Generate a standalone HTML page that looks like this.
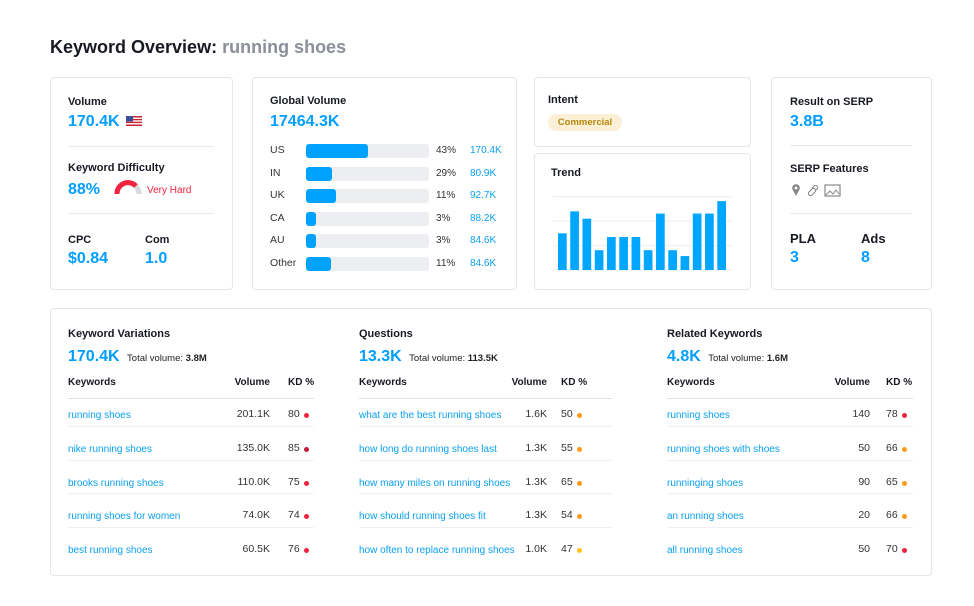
<!DOCTYPE html>
<html><head><meta charset="utf-8">
<style>
*{box-sizing:border-box;margin:0;padding:0}
body{width:974px;height:606px;background:#fff;font-family:"Liberation Sans",sans-serif;color:#171a22;position:relative;overflow:hidden}
.a{position:absolute;white-space:nowrap}
.card{position:absolute;border:1px solid #e4e6ea;border-radius:4px;background:#fff}
.lbl{font-size:11px;font-weight:bold;color:#171a22}
.big{font-size:16px;font-weight:bold;color:#009eff}
.div{position:absolute;height:1px;background:#e9eaee}
.lnk{font-size:10px;color:#0aa0f0}
.num{font-size:10.5px;color:#333}
.dot{position:absolute;width:5px;height:5px;border-radius:50%}
</style></head><body>
<div class="a" style="left:50px;top:37px;font-size:18px;font-weight:bold">Keyword Overview: <span style="color:#8a8f99">running shoes</span></div>

<div class="card" style="left:50px;top:77px;width:183px;height:213px"></div>
<div class="a lbl" style="left:68px;top:96px">Volume</div>
<div class="a big" style="left:68px;top:113px">170.4K</div>
<svg class="a" style="left:126px;top:116px" width="16" height="10"><rect width="16" height="10" fill="#c8262f"/><rect y="1.5" width="16" height="1.4" fill="#fff"/><rect y="4.3" width="16" height="1.4" fill="#fff"/><rect y="7.1" width="16" height="1.4" fill="#fff"/><rect width="7" height="5.5" fill="#3c4d9a"/></svg>
<div class="div" style="left:68px;top:146px;width:146px"></div>
<div class="a lbl" style="left:68px;top:162px">Keyword Difficulty</div>
<div class="a big" style="left:68px;top:181px">88%</div>
<svg class="a" style="left:114px;top:180px" width="28" height="16"><path d="M3,14 A11,11 0 0 1 25,14" fill="none" stroke="#d6d8dc" stroke-width="5"/><path d="M3,14 A11,11 0 0 1 22,6" fill="none" stroke="#f0233f" stroke-width="5"/></svg>
<div class="a" style="left:147px;top:185px;font-size:10px;color:#f0233f">Very Hard</div>
<div class="div" style="left:68px;top:213px;width:146px"></div>
<div class="a lbl" style="left:68px;top:234px">CPC</div>
<div class="a big" style="left:68px;top:250px">$0.84</div>
<div class="a lbl" style="left:145px;top:234px">Com</div>
<div class="a big" style="left:145px;top:250px">1.0</div>

<div class="card" style="left:252px;top:77px;width:265px;height:213px"></div>
<div class="a lbl" style="left:270px;top:95px">Global Volume</div>
<div class="a big" style="left:270px;top:113px">17464.3K</div>
<div id="gv"></div>

<div class="card" style="left:534px;top:77px;width:217px;height:70px"></div>
<div class="a lbl" style="left:548px;top:94px">Intent</div>
<div class="a" style="left:548px;top:114px;width:74px;height:17px;border-radius:9px;background:#fbf0d5;color:#b8860b;font-size:9.5px;font-weight:bold;text-align:center;line-height:17px">Commercial</div>

<div class="card" style="left:534px;top:153px;width:217px;height:137px"></div>
<div class="a lbl" style="left:551px;top:167px">Trend</div>
<svg class="a" id="trend" style="left:0;top:0" width="974" height="606"></svg>

<div class="card" style="left:771px;top:77px;width:161px;height:213px"></div>
<div class="a lbl" style="left:790px;top:96px">Result on SERP</div>
<div class="a big" style="left:790px;top:113px">3.8B</div>
<div class="div" style="left:790px;top:145px;width:122px"></div>
<div class="a lbl" style="left:790px;top:163px">SERP Features</div>
<svg class="a" style="left:790px;top:183px" width="55" height="14"><path d="M6,13 L2.5,6.5 A3.8,3.8 0 1 1 9.5,6.5 Z" fill="#888"/><circle cx="6" cy="5" r="1.4" fill="#fff"/><path d="M19,9 l3,-3 a2,2 0 0 1 3,3 l-3,3 a2,2 0 0 1 -3,-3 M22,5 l2,-2 a2,2 0 0 1 3,3 l-2,2" fill="none" stroke="#888" stroke-width="1.1"/><rect x="35" y="2" width="15" height="11" fill="none" stroke="#888" stroke-width="1.2"/><path d="M36,12 l4,-4 3,3 3,-4 3,4" fill="none" stroke="#888"/></svg>
<div class="div" style="left:790px;top:213px;width:122px"></div>
<div class="a" style="left:790px;top:231px;font-size:13px;font-weight:bold">PLA</div>
<div class="a big" style="left:790px;top:249px">3</div>
<div class="a" style="left:861px;top:231px;font-size:13px;font-weight:bold">Ads</div>
<div class="a big" style="left:861px;top:249px">8</div>

<div class="card" style="left:50px;top:308px;width:882px;height:268px"></div>
<div id="tables"></div>

<script>
const countries=["US","IN","UK","CA","AU","Other"];
const sharePct=["43%","29%","11%","3%","3%","11%"];
const countryVolumes=["170.4K","80.9K","92.7K","88.2K","84.6K","84.6K"];
const barFill=[50,21,24,8,8,20];
const trendMonths=["1","2","3","4","5","6","7","8","9","10","11","12","13","14"];
const trendValues=[50,80,70,27,45,45,45,27,77,27,19,77,77,94];

const gv=document.getElementById('gv');
countries.forEach((c,i)=>{
  const y=143+i*22.6;
  gv.insertAdjacentHTML('beforeend','<div class="a" style="left:270px;top:'+(y+1)+'px;font-size:10.5px;color:#333">'+c+'</div>');
  const track=document.createElement('div');
  track.className='a';
  track.style.cssText='left:306px;top:'+(y+1)+'px;width:123px;height:14px;background:#eceef2;border-radius:3px';
  
  
  const fill=document.createElement('div');
  fill.style.cssText='width:'+(barFill[i]/100*123)+'px;height:14px;background:#00a2ff;border-radius:3px';
  
  
  track.appendChild(fill);gv.appendChild(track);
  gv.insertAdjacentHTML('beforeend','<div class="a" style="left:436px;top:'+(y+2)+'px;font-size:10px;color:#333">'+sharePct[i]+'</div><div class="a" style="left:470px;top:'+(y+2)+'px;font-size:10px;color:#0aa0f0">'+countryVolumes[i]+'</div>');
});

const svg=document.getElementById('trend');
const NS='http://www.w3.org/2000/svg';
const x0=553,x1=732,yBase=270,yTop=196.7;
const yScale=v=>yBase-(v/100)*(yBase-yTop);
const step=(717.3-558)/(trendValues.length-1);
const xScale=i=>558+i*step;
[0,33.3,66.7,100].forEach(v=>{
  const l=document.createElementNS(NS,'line');
  l.setAttribute('x1',x0);l.setAttribute('x2',x1);l.setAttribute('y1',yScale(v));l.setAttribute('y2',yScale(v));
  l.setAttribute('stroke','#eceef1');
  
  
  svg.appendChild(l);
});
trendValues.forEach((v,i)=>{
  const r=document.createElementNS(NS,'rect');
  r.setAttribute('x',xScale(i));r.setAttribute('y',yScale(v));r.setAttribute('width',8.7);r.setAttribute('height',yBase-yScale(v));
  r.setAttribute('fill','#00a6ff');
  
  
  svg.appendChild(r);
});

const sections=[
 {name:'keyword-variations',title:'Keyword Variations',big:'170.4K',total:'3.8M',x:68,w:246,volR:270,kd:288,
  rows:[['running shoes','201.1K',80,'#f0233f'],['nike running shoes','135.0K',85,'#c21a3a'],['brooks running shoes','110.0K',75,'#f0233f'],['running shoes for women','74.0K',74,'#f0233f'],['best running shoes','60.5K',76,'#f0233f']]},
 {name:'questions',title:'Questions',big:'13.3K',total:'113.5K',x:359,w:253,volR:547,kd:561,
  rows:[['what are the best running shoes','1.6K',50,'#ff9a1a'],['how long do running shoes last','1.3K',55,'#ff9a1a'],['how many miles on running shoes','1.3K',65,'#ff9a1a'],['how should running shoes fit','1.3K',54,'#ff9a1a'],['how often to replace running shoes','1.0K',47,'#ffc21a']]},
 {name:'related-keywords',title:'Related Keywords',big:'4.8K',total:'1.6M',x:667,w:246,volR:870,kd:886,
  rows:[['running shoes','140',78,'#f0233f'],['running shoes with shoes','50',66,'#ff9a1a'],['runninging shoes','90',65,'#ff9a1a'],['an running shoes','20',66,'#ff9a1a'],['all running shoes','50',70,'#f0233f']]}
];
let h='';
sections.forEach(s=>{
  h+='<div class="a lbl" style="left:'+s.x+'px;top:328px">'+s.title+'</div>';
  h+='<div class="a" style="left:'+s.x+'px;top:348px;font-size:16px;font-weight:bold;color:#009eff">'+s.big+' <span style="font-size:9.5px;color:#222;font-weight:normal;margin-left:3px">Total volume: <b>'+s.total+'</b></span></div>';
  h+='<div class="a" style="left:'+s.x+'px;top:377px;font-size:10px;font-weight:bold">Keywords</div>';
  h+='<div class="a" style="left:'+(s.volR-60)+'px;width:60px;text-align:right;top:377px;font-size:10px;font-weight:bold">Volume</div>';
  h+='<div class="a" style="left:'+s.kd+'px;top:377px;font-size:10px;font-weight:bold">KD %</div>';
  h+='<div class="div" style="left:'+s.x+'px;top:398px;width:'+s.w+'px;background:#dfe1e6"></div>';
  s.rows.forEach((r,i)=>{
    const y=409+i*33.8;
    if(i>0) h+='<div class="div" style="left:'+s.x+'px;top:'+(y-17)+'px;width:'+s.w+'px;background:#f0f1f3"></div>';
    h+='<div class="a lnk" style="left:'+s.x+'px;top:'+(y+1)+'px">'+r[0]+'</div>';
    h+='<div class="a num" style="left:'+(s.volR-60)+'px;width:60px;text-align:right;top:'+(y-1)+'px">'+r[1]+'</div>';
    h+='<div class="a num" style="left:'+s.kd+'px;top:'+(y-1)+'px">'+r[2]+'</div>';
    h+='<div class="dot" style="left:'+(s.kd+16)+'px;top:'+(y+4)+'px;background:'+r[3]+'"></div>';
  });
});
document.getElementById('tables').innerHTML=h;
</script>
</body></html>
